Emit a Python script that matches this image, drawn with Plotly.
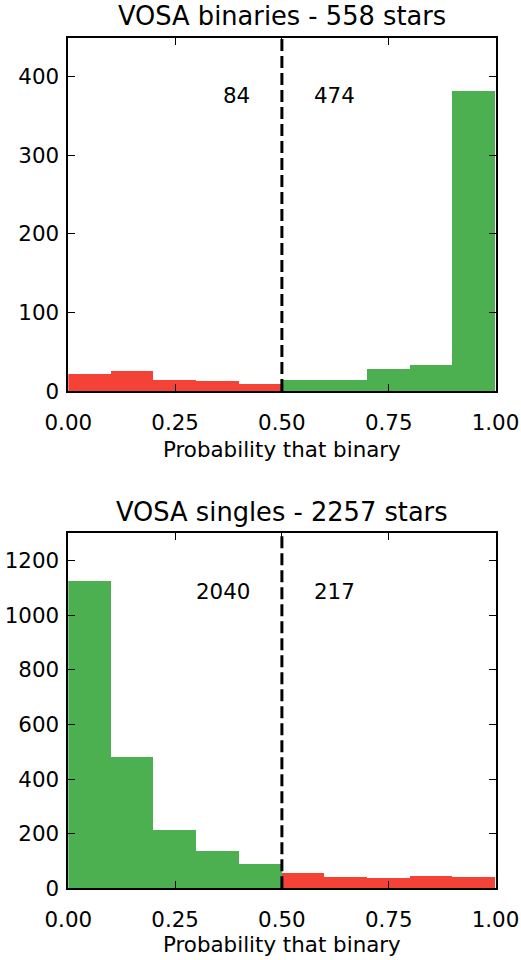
import plotly.graph_objects as go

# Histogram bins of the binary probability
bin_edges = [0.0, 0.1, 0.2, 0.3, 0.4, 0.5, 0.6, 0.7, 0.8, 0.9, 1.0]

# Counts per bin
binaries_counts = [22, 26, 14, 13, 9, 14, 15, 29, 33, 383]
singles_counts = [1125, 481, 211, 136, 87, 55, 39, 38, 43, 42]

# Totals on each side of the 0.5 threshold
binaries_split = ["84", "474"]
singles_split = ["2040", "217"]

titles = ["VOSA binaries - 558 stars", "VOSA singles - 2257 stars"]
xlabel = "Probability that binary"
threshold = 0.5

RED = "#f44336"
GREEN = "#4caf50"
FONT = "DejaVu Sans, Verdana, sans-serif"
TICK_SIZE = 21.4
TITLE_SIZE = 25.7

centers = [(a + b) / 2 for a, b in zip(bin_edges[:-1], bin_edges[1:])]
widths = [b - a for a, b in zip(bin_edges[:-1], bin_edges[1:])]

fig = go.Figure()

# Top panel: binaries (below threshold = red, above = green)
fig.add_trace(go.Bar(
    x=centers, y=binaries_counts, width=widths,
    marker=dict(color=[RED if c < threshold else GREEN for c in centers], line=dict(width=0)),
    xaxis="x", yaxis="y", showlegend=False,
))
# Bottom panel: singles (below threshold = green, above = red)
fig.add_trace(go.Bar(
    x=centers, y=singles_counts, width=widths,
    marker=dict(color=[GREEN if c < threshold else RED for c in centers], line=dict(width=0)),
    xaxis="x2", yaxis="y2", showlegend=False,
))

W, H = 521, 960
xdom = [68.3 / W, 495.5 / W]
top_dom = [1 - 391.0 / H, 1 - 37.7 / H]
bot_dom = [1 - 888.3 / H, 1 - 533.3 / H]

axis_common = dict(
    showline=True, linecolor="black", linewidth=1.7, mirror="ticks",
    ticks="inside", ticklen=7, tickwidth=1.4, tickcolor="black",
    showgrid=False, zeroline=False, automargin=False,
    tickfont=dict(family=FONT, size=TICK_SIZE, color="black"),
)

xticks = [0, 0.25, 0.5, 0.75, 1.0]

fig.update_layout(
    template="none",
    width=W, height=H,
    margin=dict(l=0, r=0, t=0, b=0, pad=0),
    paper_bgcolor="white", plot_bgcolor="white",
    bargap=0,
    xaxis=dict(domain=xdom, range=[0, 1], tickvals=xticks, tickformat=".2f",
               anchor="y", ticklabelstandoff=11, **axis_common),
    yaxis=dict(domain=top_dom, range=[0, 450], tickvals=[0, 100, 200, 300, 400],
               anchor="x", ticklabelstandoff=3, **axis_common),
    xaxis2=dict(domain=xdom, range=[0, 1], tickvals=xticks, tickformat=".2f",
                anchor="y2", ticklabelstandoff=11, **axis_common),
    yaxis2=dict(domain=bot_dom, range=[0, 1300], tickvals=[0, 200, 400, 600, 800, 1000, 1200],
                anchor="x2", ticklabelstandoff=3, **axis_common),
)

# Threshold lines
for xr, yr in [("x", "y domain"), ("x2", "y2 domain")]:
    fig.add_shape(type="line", xref=xr, yref=yr, x0=threshold, x1=threshold, y0=0, y1=1,
                  line=dict(color="black", width=3, dash="12px,5px"), layer="above")

# Split counts
for (left, right), xr, yr in [(binaries_split, "x", "y domain"), (singles_split, "x2", "y2 domain")]:
    fig.add_annotation(text=left, xref=xr, yref=yr, x=0.43, y=0.835, xanchor="right",
                       yanchor="middle", showarrow=False,
                       font=dict(family=FONT, size=TICK_SIZE, color="black"))
    fig.add_annotation(text=right, xref=xr, yref=yr, x=0.57, y=0.835, xanchor="left",
                       yanchor="middle", showarrow=False,
                       font=dict(family=FONT, size=TICK_SIZE, color="black"))

# Panel titles and x labels
xc = (xdom[0] + xdom[1]) / 2
for title, ty, ly in [(titles[0], 16, 449), (titles[1], 512, 944)]:
    fig.add_annotation(text=title, xref="paper", yref="paper", x=xc, y=1 - ty / H,
                       xanchor="center", yanchor="middle", showarrow=False,
                       font=dict(family=FONT, size=TITLE_SIZE, color="black"))
    fig.add_annotation(text=xlabel, xref="paper", yref="paper", x=xc, y=1 - ly / H,
                       xanchor="center", yanchor="middle", showarrow=False,
                       font=dict(family=FONT, size=TICK_SIZE, color="black"))

fig.write_html("out.html")
